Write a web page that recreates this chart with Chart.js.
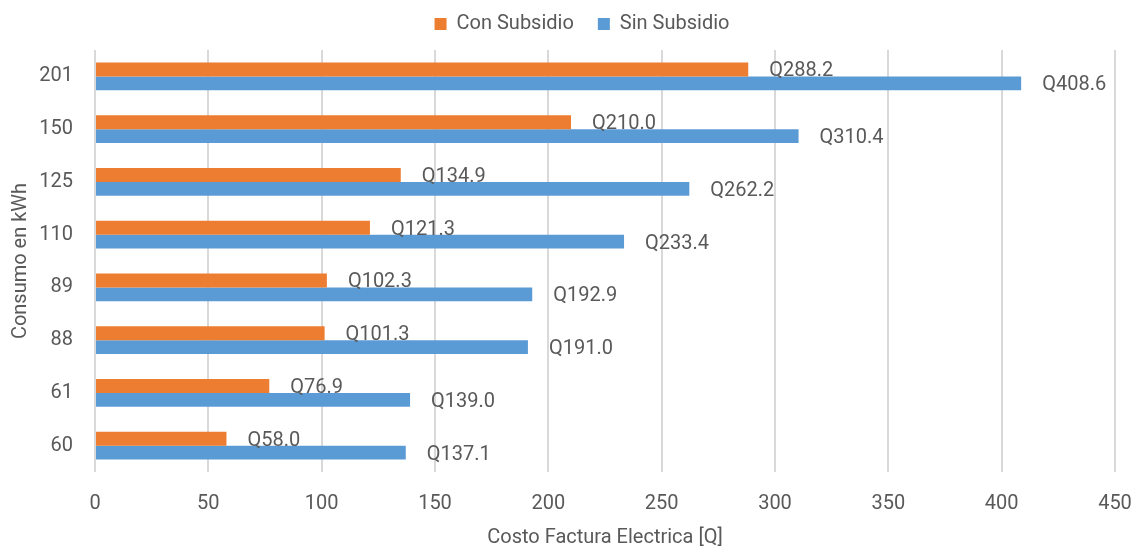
<!DOCTYPE html>
<html>
<head>
<meta charset="utf-8">
<script src="https://cdn.jsdelivr.net/npm/chart.js@4/dist/chart.umd.min.js"></script>
<style>
  html, body { margin: 0; padding: 0; background: #fff; }
  #wrap { width: 1132px; height: 548px; }
</style>
</head>
<body>
<div id="wrap"><canvas id="canvas"></canvas></div>
<script>
var categories = ['201', '150', '125', '110', '89', '88', '61', '60'];
var conSubsidio = [288.2, 210.0, 134.9, 121.3, 102.3, 101.3, 76.9, 58.0];
var sinSubsidio = [408.6, 310.4, 262.2, 233.4, 192.9, 191.0, 139.0, 137.1];

var textColor = '#595959';
var fontFamily = 'Roboto, "Noto Sans", sans-serif';
var fontSize = 20;

// draws "Q..." next to the end of each bar
var valueLabels = {
    id: 'valueLabels',
    afterDatasetsDraw: function (chart) {
        var ctx = chart.ctx;
        ctx.save();
        ctx.font = fontSize + 'px ' + fontFamily;
        ctx.fillStyle = textColor;
        ctx.textAlign = 'left';
        ctx.textBaseline = 'middle';
        chart.data.datasets.forEach(function (ds, i) {
            var meta = chart.getDatasetMeta(i);
            meta.data.forEach(function (bar, j) {
                ctx.fillText('Q' + ds.data[j].toFixed(1), bar.x + 21, bar.y + 2);
            });
        });
        ctx.restore();
    }
};

// fixed legend height so the plot starts where it should,
// and nudge the legend a little right like the original
var legendGap = {
    id: 'legendGap',
    beforeInit: function (chart) {
        var legend = chart.legend;
        var fit = legend.fit;
        legend.fit = function () {
            fit.bind(legend)();
            this.height = 62;
        };
        var draw = legend.draw;
        legend.draw = function () {
            var c = this.ctx;
            c.save();
            c.translate(13, 2);
            draw.bind(legend)();
            c.restore();
        };
    }
};

window.onload = function () {
    var ctx = document.getElementById('canvas').getContext('2d');
    window.myBar = new Chart(ctx, {
        type: 'bar',
        data: {
            labels: categories,
            datasets: [{
                label: 'Con Subsidio',
                backgroundColor: '#ED7D31',
                data: conSubsidio,
                categoryPercentage: 0.53,
                barPercentage: 1.0
            }, {
                label: 'Sin Subsidio',
                backgroundColor: '#5B9BD5',
                data: sinSubsidio,
                categoryPercentage: 0.53,
                barPercentage: 1.0
            }]
        },
        options: {
            indexAxis: 'y',
            responsive: true,
            maintainAspectRatio: false,
            animation: false,
            layout: { padding: { top: -12, right: 0, left: 6, bottom: 0 } },
            plugins: {
                legend: {
                    position: 'top',
                    labels: {
                        boxWidth: 12,
                        boxHeight: 12,
                        color: textColor,
                        font: { size: fontSize, family: fontFamily },
                        padding: 24
                    }
                },
                tooltip: { enabled: false }
            },
            scales: {
                x: {
                    min: 0,
                    max: 450,
                    afterFit: function (scale) {
                        scale.height = 76;
                        scale.paddingRight = 17;
                    },
                    ticks: {
                        stepSize: 50,
                        color: textColor,
                        font: { size: fontSize, family: fontFamily },
                        padding: 20
                    },
                    grid: { color: '#d9d9d9', lineWidth: 2, drawTicks: false },
                    border: { display: false },
                    title: {
                        display: true,
                        text: 'Costo Factura Electrica [Q]',
                        color: textColor,
                        font: { size: fontSize, family: fontFamily },
                        padding: { top: 0, bottom: -2 }
                    }
                },
                y: {
                    afterFit: function (scale) { scale.width = 89; },
                    ticks: {
                        color: textColor,
                        font: { size: fontSize, family: fontFamily },
                        padding: 22
                    },
                    grid: { display: false, drawTicks: false },
                    border: { display: false },
                    title: {
                        display: true,
                        text: 'Consumo en kWh',
                        color: textColor,
                        font: { size: fontSize, family: fontFamily },
                        padding: 3
                    }
                }
            }
        },
        plugins: [valueLabels, legendGap]
    });
};
</script>
</body>
</html>
